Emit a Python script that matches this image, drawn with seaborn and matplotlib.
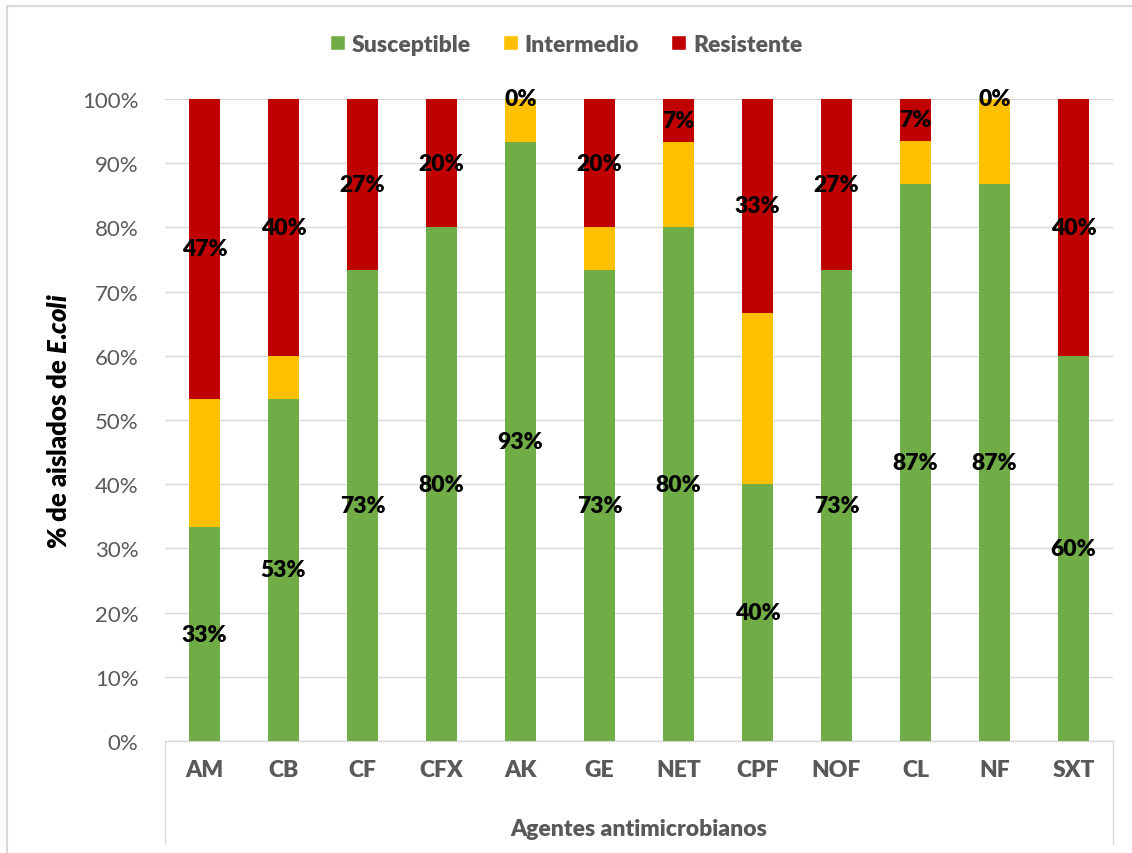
import matplotlib
matplotlib.use("Agg")
import matplotlib.pyplot as plt
import seaborn as sns
import numpy as np
import pandas as pd
from matplotlib.patches import Patch, Rectangle
from matplotlib.lines import Line2D

agents = ["AM", "CB", "CF", "CFX", "AK", "GE", "NET", "CPF", "NOF", "CL", "NF", "SXT"]
susceptible = [33.3, 53.3, 73.3, 80.0, 93.3, 73.3, 80.0, 40.0, 73.3, 86.7, 86.7, 60.0]
intermedio = [20.0, 6.7, 0.0, 0.0, 6.7, 6.7, 13.3, 26.7, 0.0, 6.7, 13.3, 0.0]
resistente = [46.7, 40.0, 26.7, 20.0, 0.0, 20.0, 6.7, 33.3, 26.7, 6.7, 0.0, 40.0]
yticks = list(range(0, 101, 10))

C_S, C_I, C_R = "#70AD47", "#FFC000", "#C00000"
GRAY = "#595959"
BOLD = "heavy"

sns.set_theme(style="white")
plt.rcParams["font.family"] = "Lato"
plt.rcParams["mathtext.fontset"] = "custom"
plt.rcParams["mathtext.bfit"] = "Lato:italic:heavy"
plt.rcParams["mathtext.it"] = "Lato:italic:heavy"
plt.rcParams["mathtext.rm"] = "Lato:heavy"

df = pd.DataFrame({"agent": agents, "S": susceptible, "I": intermedio, "R": resistente})
df["SI"] = df["S"] + df["I"]
df["SIR"] = np.minimum(df["SI"] + df["R"], 100)

fig = plt.figure(figsize=(11.32, 8.54), dpi=100)
ax = fig.add_axes([165/1132, 1-742/854, (1113-165)/1132, (742-100)/854])

ax.yaxis.grid(True, color="#D9D9D9", linewidth=1.0, zorder=0)
ax.set_axisbelow(True)

sns.barplot(data=df, x="agent", y="SIR", color=C_R, width=0.4, saturation=1, ax=ax,
            linewidth=0, zorder=2)
sns.barplot(data=df, x="agent", y="SI", color=C_I, width=0.4, saturation=1, ax=ax,
            linewidth=0, zorder=3)
sns.barplot(data=df, x="agent", y="S", color=C_S, width=0.4, saturation=1, ax=ax,
            linewidth=0, zorder=4)

for i, row in df.iterrows():
    ax.text(i, row["S"] / 2, f"{row['S']:.0f}%", ha="center", va="center",
            fontsize=16.5, fontweight=BOLD, color="black", zorder=6)
    ax.text(i, row["SI"] + row["R"] / 2, f"{row['R']:.0f}%", ha="center", va="center",
            fontsize=16.5, fontweight=BOLD, color="black", zorder=6)

ax.set_ylim(0, 100)
ax.set_xlim(-0.5, len(agents) - 0.5)
ax.set_yticks(yticks)
ax.set_yticklabels([f"{t}%" for t in yticks], fontsize=16, color=GRAY)
ax.set_xticks(range(len(agents)))
ax.set_xticklabels(agents, fontsize=16.5, fontweight=BOLD, color=GRAY)
ax.tick_params(axis="y", length=0, pad=19)
ax.tick_params(axis="x", length=0, pad=13)

for s in ["top", "right", "left"]:
    ax.spines[s].set_visible(False)
ax.spines["bottom"].set_color("#D9D9D9")
ax.spines["bottom"].set_linewidth(1.0)

# category box below the axis
for xa in (0, 1):
    ax.add_line(Line2D([xa, xa], [0, -(845-742)/642], transform=ax.transAxes,
                       color="#D9D9D9", linewidth=1.0, clip_on=False))

ax.set_xlabel("Agentes antimicrobianos", fontsize=16.5, fontweight=BOLD, color=GRAY, labelpad=27)
ax.set_ylabel(r"% de aislados de $\mathbfit{E}$.$\mathbfit{coli}$", fontsize=18.5, fontweight=BOLD,
              color="black", labelpad=8)

handles = [Patch(facecolor=C_S), Patch(facecolor=C_I), Patch(facecolor=C_R)]
leg = fig.legend(handles, ["Susceptible", "Intermedio", "Resistente"], loc="center",
                 bbox_to_anchor=(0.5, 1 - 45/854), ncol=3, frameon=False,
                 handlelength=0.65, handleheight=0.65, handletextpad=0.3,
                 columnspacing=1.4, prop={"family": "Lato", "size": 16.5, "weight": BOLD})
for t in leg.get_texts():
    t.set_color(GRAY)

fig.patches.append(Rectangle((7/1132, -0.01), 1.02, 1 - 7/854 + 0.01, transform=fig.transFigure,
                             fill=False, edgecolor="#D9D9D9", linewidth=1.5))

fig.savefig("out.png", dpi=100)
